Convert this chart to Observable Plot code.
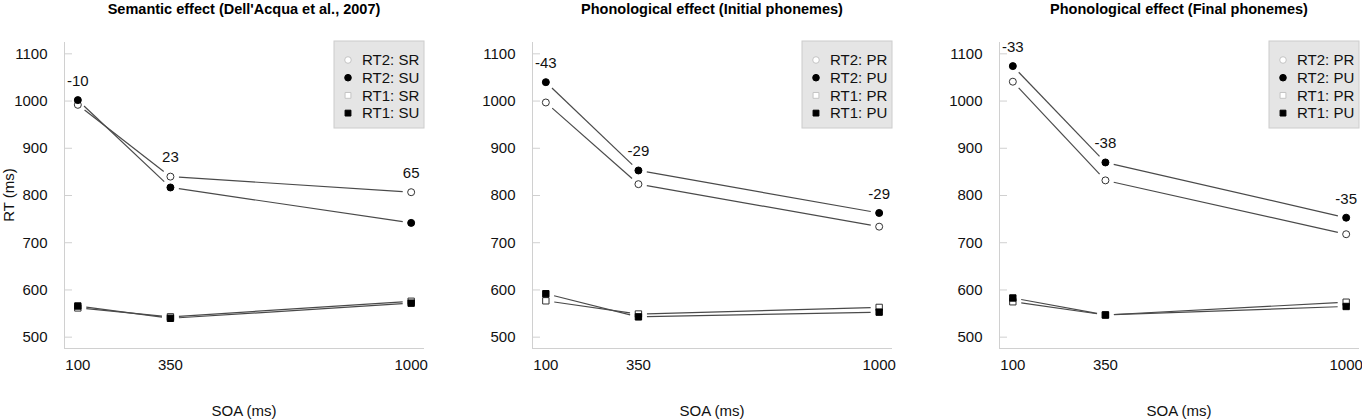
<!DOCTYPE html>
<html><head><meta charset="utf-8">
<script src="https://cdn.jsdelivr.net/npm/d3@7"></script>
<script src="https://cdn.jsdelivr.net/npm/@observablehq/plot@0.6"></script>
<style>
html,body{margin:0;padding:0;background:#fff;}
#chart{position:relative;width:1362px;height:420px;overflow:hidden;font-family:"Liberation Sans",Arial,Helvetica,sans-serif;}
#chart > svg{position:absolute;top:0;}
</style></head><body><div id="chart"></div>
<script>
// ---- data ----
const soa = [100, 350, 1000];
const panelTitles = [
  "Semantic effect (Dell'Acqua et al., 2007)",
  "Phonological effect (Initial phonemes)",
  "Phonological effect (Final phonemes)"
];
const relatedCodes = ["SR", "PR", "PR"];
const unrelatedCodes = ["SU", "PU", "PU"];
const rt2Related   = [[992, 840, 807], [997, 824, 734], [1041, 832, 718]];
const rt2Unrelated = [[1002, 817, 742], [1040, 853, 763], [1074, 870, 753]];
const rt1Related   = [[562, 543, 576], [577, 549, 563], [575, 547, 574]];
const rt1Unrelated = [[566, 540, 572], [592, 543, 553], [583, 547, 565]];
const effects = [["-10", "23", "65"], ["-43", "-29", "-29"], ["-33", "-38", "-35"]];
const yTicks = [500, 600, 700, 800, 900, 1000, 1100];
const xTicks = [100, 350, 1000];

// ---- layout ----
const W = 427, H = 420, mL = 64, mR = 3, mT = 42, mB = 72;
const panelLeft = [0, 468, 935];
const xPad = (1000 - 100) * 0.04, yPad = (1100 - 500) * 0.04;
const xDomain = [100 - xPad, 1000 + xPad];
const yDomain = [500 - yPad, 1100 + yPad];
const kx = (W - mL - mR) / (xDomain[1] - xDomain[0]);
const ky = (H - mT - mB) / (yDomain[1] - yDomain[0]);
const GAP = 8.5;
const FONT = '"Liberation Sans", Arial, Helvetica, sans-serif';
const FS = 15;

function gapped(values) {
  const segs = [];
  for (let i = 0; i < values.length - 1; i++) {
    const x0 = soa[i], y0 = values[i], x1 = soa[i + 1], y1 = values[i + 1];
    const len = Math.hypot((x1 - x0) * kx, (y1 - y0) * ky);
    const t = GAP / len;
    segs.push({
      x1: x0 + (x1 - x0) * t, y1: y0 + (y1 - y0) * t,
      x2: x1 - (x1 - x0) * t, y2: y1 - (y1 - y0) * t
    });
  }
  return segs;
}

const chart = document.getElementById("chart");

panelTitles.forEach((title, p) => {
  const series = [
    {values: rt2Related[p], symbol: "circle", fill: "white", stroke: "#333", r: 3.5},
    {values: rt2Unrelated[p], symbol: "circle", fill: "black", stroke: "black", r: 3.5},
    {values: rt1Related[p], symbol: "square", fill: "white", stroke: "#333", r: 3.6},
    {values: rt1Unrelated[p], symbol: "square", fill: "black", stroke: "black", r: 3.6}
  ];
  const marks = [
    Plot.ruleX([xDomain[0]], {stroke: "#d0d0d0"}),
    Plot.ruleY([yDomain[0]], {stroke: "#d0d0d0"}),
    Plot.tickY(yTicks, {y: d => d, stroke: "#d0d0d0", insetRight: W - mL - mR - 8})
  ];
  series.forEach(s => marks.push(Plot.link(gapped(s.values), {
    x1: "x1", y1: "y1", x2: "x2", y2: "y2", stroke: "#4a4a4a", strokeWidth: 1.2
  })));
  series.forEach(s => marks.push(Plot.dot(s.values.map((v, i) => ({x: soa[i], y: v})), {
    x: "x", y: "y", symbol: s.symbol, r: s.r, fill: s.fill, stroke: s.stroke, strokeWidth: 1
  })));
  marks.push(Plot.text(effects[p].map((e, i) => ({
    x: soa[i], y: Math.max(rt2Related[p][i], rt2Unrelated[p][i]), label: e
  })), {x: "x", y: "y", text: "label", dy: -19, fill: "#111", fontSize: FS}));

  const svg = Plot.plot({
    width: W, height: H,
    marginLeft: mL, marginRight: mR, marginTop: mT, marginBottom: mB,
    x: {domain: xDomain, ticks: xTicks, tickSize: 0, tickPadding: 11, tickFormat: d => String(d), label: null},
    y: {domain: yDomain, ticks: yTicks, tickSize: 0, tickPadding: 17, tickFormat: d => String(d), label: null},
    style: {fontSize: FS + "px", fontFamily: FONT, color: "#111", background: "transparent", overflow: "visible"},
    marks
  });
  svg.style.left = panelLeft[p] + "px";
  chart.appendChild(svg);
});

// ---- overlay: titles, axis labels, legends ----
const ov = d3.select(chart).append("svg")
  .attr("width", 1362).attr("height", 420)
  .style("left", "0px").style("pointer-events", "none")
  .style("font-family", FONT).style("font-size", FS + "px");

panelTitles.forEach((title, p) => {
  const frameL = panelLeft[p] + mL, frameR = panelLeft[p] + W - mR;
  const cx = (frameL + frameR) / 2;
  ov.append("text").attr("x", cx).attr("y", 14).attr("text-anchor", "middle")
    .attr("font-weight", "bold").attr("font-size", "14.5px").attr("fill", "#000").text(title);
  ov.append("text").attr("x", cx).attr("y", 416).attr("text-anchor", "middle")
    .attr("fill", "#111").text("SOA (ms)");

  const legendItems = [
    {label: "RT2: " + relatedCodes[p], symbol: d3.symbolCircle, fill: "white", stroke: "#c4c4c4"},
    {label: "RT2: " + unrelatedCodes[p], symbol: d3.symbolCircle, fill: "black", stroke: "black"},
    {label: "RT1: " + relatedCodes[p], symbol: d3.symbolSquare, fill: "white", stroke: "#c4c4c4"},
    {label: "RT1: " + unrelatedCodes[p], symbol: d3.symbolSquare, fill: "black", stroke: "black"}
  ];
  const bw = 90, bh = 87, bx = frameR - bw, by = 41;
  const g = ov.append("g");
  g.append("rect").attr("x", bx).attr("y", by).attr("width", bw).attr("height", bh)
    .attr("fill", "#e5e5e5").attr("stroke", "#cccccc");
  legendItems.forEach((it, i) => {
    const cy = 60 + i * 17.7;
    g.append("path").attr("transform", `translate(${bx + 14},${cy})`)
      .attr("d", d3.symbol(it.symbol, Math.PI * 3.3 * 3.3)())
      .attr("fill", it.fill).attr("stroke", it.stroke).attr("stroke-width", 1);
    g.append("text").attr("x", bx + 28).attr("y", cy + 5.3).attr("fill", "#111").text(it.label);
  });
});

ov.append("text").attr("transform", "translate(14,195) rotate(-90)")
  .attr("text-anchor", "middle").attr("fill", "#111").text("RT (ms)");
</script></body></html>
